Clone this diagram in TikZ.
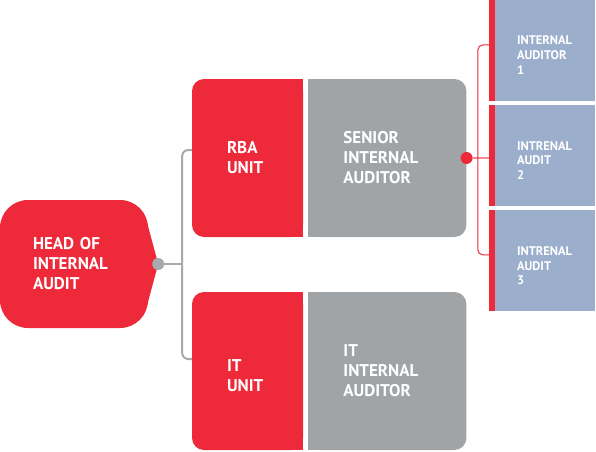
\documentclass[tikz,border=0pt]{standalone}
\usepackage{fontspec}
\setmainfont{PT Sans}
\usetikzlibrary{backgrounds, calc, positioning}

\definecolor{auditred}{RGB}{238,41,57}
\definecolor{auditgray}{RGB}{161,164,167}
\definecolor{auditblue}{RGB}{155,175,205}
\definecolor{linkgray}{RGB}{167,169,172}

\begin{document}
\begin{tikzpicture}[
	x=1pt, y=1pt,
	box/.style = {rectangle, inner ysep=0pt, text=white, align=left, font=\fontsize{17}{20}\selectfont\bfseries},
	unit/.style = {box, fill=auditred, rounded corners=12pt, minimum width=111pt, minimum height=158pt, inner xsep=35pt, text width=41pt},
	auditor/.style = {box, fill=auditgray, rounded corners=12pt, minimum width=158pt, minimum height=158pt, inner xsep=35pt, text width=88pt},
	staff/.style = {box, fill=auditblue, minimum width=106pt, minimum height=101pt, inner xsep=28pt, text width=50pt,
		font=\fontsize{12.5}{14.7}\selectfont\bfseries, lower text=19pt,
		path picture={\fill[auditred] (path picture bounding box.south west) rectangle ([xshift=6pt]path picture bounding box.north west);}},
	lower text/.style = {execute at begin node={\rule{0pt}{#1}}},
	link/.style = {draw=linkgray, line width=2pt},
	bracket/.style = {draw=auditred, line width=1pt, rounded corners=5pt},
	dot/.style = {circle, inner sep=0pt, minimum size=12pt},
	node distance = 4pt and 5pt
]
\useasboundingbox (0,0) rectangle (596,451);

% head of the department
\node[box, fill=auditred, rounded corners=28pt, minimum width=148pt, minimum height=128pt, inner xsep=33pt, text width=82pt] (head) at (74,187) {HEAD OF\\INTERNAL\\AUDIT};
\coordinate (head tip) at ($(head.east)+(10,0)$);
\fill[auditred] ($(head.east)+(-10,41)$) -- ($(head.east)+(-1,41)$) -- (head tip) -- ($(head.east)+(-1,-41)$) -- ($(head.east)+(-10,-41)$) -- cycle;

% units and their auditors
\node[unit] (rba) at (247.5,293) {RBA\\UNIT};
\node[auditor, right=of rba] (senior) {SENIOR\\INTERNAL\\AUDITOR};
\node[unit, lower text=22pt] (it) at (247.5,80) {IT\\UNIT};
\node[auditor, right=of it] (it auditor) {IT\\INTERNAL\\AUDITOR};

\begin{scope}[on background layer]
	\fill[auditred] (rba.north) rectangle (rba.south east);
	\fill[auditred] (it.north) rectangle (it.south east);
	\fill[auditgray] (senior.north west) rectangle (senior.south);
	\fill[auditgray] (it auditor.north west) rectangle (it auditor.south);
\end{scope}

% staff column
\node[staff] (staff 1) at (542,401) {INTERNAL\\AUDITOR\\1};
\node[staff, below=of staff 1] (staff 2) {INTRENAL\\AUDIT\\2};
\node[staff, below=of staff 2] (staff 3) {INTRENAL\\AUDIT\\3};

% connectors
\node[dot, fill=linkgray] (head dot) at (head tip) {};
\coordinate[right=24pt of head tip] (fork);
\draw[link] (head dot) -- (fork);
\draw[link, rounded corners=6pt] ([yshift=8pt]rba.west) -| (fork) |- ([yshift=12pt]it.west);

\node[dot, fill=auditred] (senior dot) at (senior.east) {};
\draw[auditred!55, line width=2pt] (senior dot) -- (senior dot -| staff 2.west);
\draw[bracket] ([yshift=5pt]staff 1.west) -- ++(-11,0) |- ([yshift=6pt]staff 3.west);

\end{tikzpicture}
\end{document}
